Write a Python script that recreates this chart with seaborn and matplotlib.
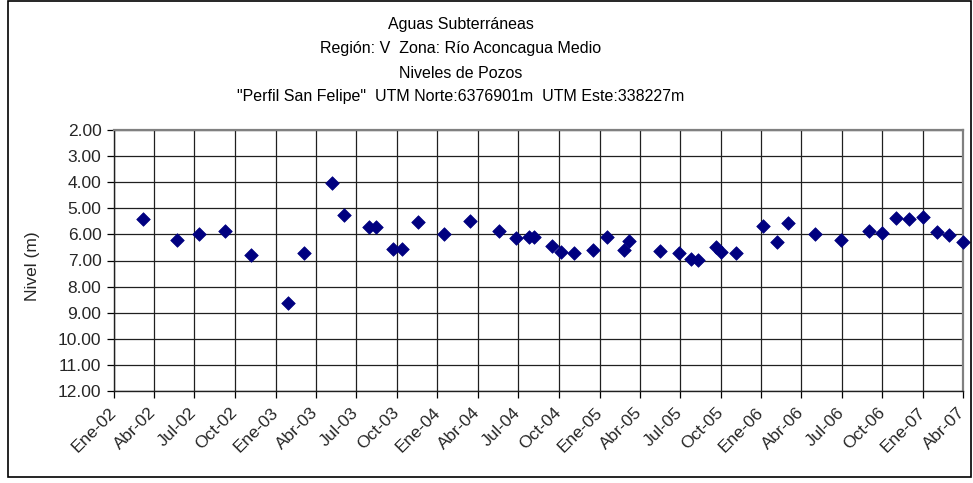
import matplotlib
matplotlib.use("Agg")
import matplotlib.pyplot as plt
from matplotlib.patches import Rectangle
import seaborn as sns
import pandas as pd

# Fechas de medición y nivel del agua (m bajo superficie)
fechas = [
    "2002-03-07", "2002-05-24", "2002-07-12", "2002-09-08", "2002-11-06",
    "2003-01-29", "2003-03-06", "2003-05-08", "2003-06-04", "2003-07-31",
    "2003-08-16", "2003-09-23", "2003-10-13", "2003-11-18", "2004-01-15",
    "2004-03-15", "2004-05-18", "2004-06-26", "2004-07-26", "2004-08-05",
    "2004-09-15", "2004-10-06", "2004-11-05", "2004-12-18", "2005-01-17",
    "2005-02-24", "2005-03-08", "2005-05-18", "2005-06-30", "2005-07-27",
    "2005-08-11", "2005-09-20", "2005-10-02", "2005-11-04", "2006-01-05",
    "2006-02-06", "2006-03-01", "2006-05-01", "2006-06-30", "2006-09-01",
    "2006-10-01", "2006-10-31", "2006-11-30", "2006-12-31", "2007-02-01",
    "2007-03-01", "2007-04-01",
]
niveles = [
    5.41, 6.21, 5.98, 5.86, 6.78,
    8.64, 6.70, 4.03, 5.26, 5.70,
    5.70, 6.57, 6.57, 5.52, 5.97,
    5.47, 5.86, 6.14, 6.11, 6.11,
    6.44, 6.69, 6.71, 6.60, 6.11,
    6.60, 6.24, 6.62, 6.70, 6.93,
    6.99, 6.50, 6.67, 6.72, 5.69,
    6.30, 5.55, 5.97, 6.20, 5.88,
    5.95, 5.37, 5.42, 5.32, 5.92,
    6.02, 6.29,
]

# Marcas trimestrales del eje X
meses = {1: "Ene", 4: "Abr", 7: "Jul", 10: "Oct"}
marcas = pd.date_range("2002-01-01", "2007-04-01", freq="QS-JAN")
etiquetas = [f"{meses[d.month]}-{d.strftime('%y')}" for d in marcas]
niveles_y = list(range(2, 13))

titulo = [
    "Aguas Subterráneas",
    "Región: V  Zona: Río Aconcagua Medio",
    "Niveles de Pozos",
    '"Perfil San Felipe"  UTM Norte:6376901m  UTM Este:338227m',
]

df = pd.DataFrame({"fecha": pd.to_datetime(fechas), "nivel": niveles})

sns.set_theme(style="white")
plt.rcParams["font.family"] = ["Liberation Sans", "DejaVu Sans"]

W, H = 973, 483
fig = plt.figure(figsize=(W / 100, H / 100), dpi=100)
ax = fig.add_axes([114 / W, 1 - 391 / H, (963 - 114) / W, (391 - 130) / H])

sns.scatterplot(data=df, x="fecha", y="nivel", ax=ax, marker="D", s=48,
                color="#000080", edgecolor="#000080", linewidth=0.5,
                zorder=3, clip_on=False)

ax.set_xlim(marcas[0], marcas[-1])
ax.set_ylim(12, 2)
ax.set_xticks(marcas)
ax.set_xticklabels(etiquetas, rotation=45, ha="right", va="center",
                   rotation_mode="anchor", fontsize=12.5)
ax.set_yticks(niveles_y)
ax.set_yticklabels([f"{v:.2f}" for v in niveles_y], fontsize=12.5)
ax.grid(True, color="#202020", linewidth=0.9)
ax.set_axisbelow(True)
ax.set_xlabel("")
ax.set_ylabel("Nivel (m)", fontsize=12.5)
ax.yaxis.label.set_va("center")
ax.yaxis.set_label_coords(-(114 - 33) / (963 - 114), 0.48)
ax.tick_params(axis="y", which="major", length=5, width=0.9, color="black",
               direction="out", pad=4, left=True)
ax.tick_params(axis="x", which="major", length=5, width=0.9, color="black",
               direction="out", pad=9, bottom=True)
for lado in ("top", "right"):
    ax.spines[lado].set_color("#808080")
    ax.spines[lado].set_linewidth(1.6)
for lado in ("left", "bottom"):
    ax.spines[lado].set_color("#202020")
    ax.spines[lado].set_linewidth(1.0)

# Títulos del gráfico
for i, linea in enumerate(titulo):
    fig.text(461 / W, 1 - (25 + 24 * i) / H, linea, ha="center", va="center",
             fontsize=11.5, color="black")

# Marco exterior del gráfico
fig.patches.append(Rectangle((8 / W, 1 - 477 / H), (971 - 8) / W, (477 - 1) / H,
                             transform=fig.transFigure, fill=False,
                             edgecolor="black", linewidth=1.2))

fig.savefig("out.png", dpi=100)
